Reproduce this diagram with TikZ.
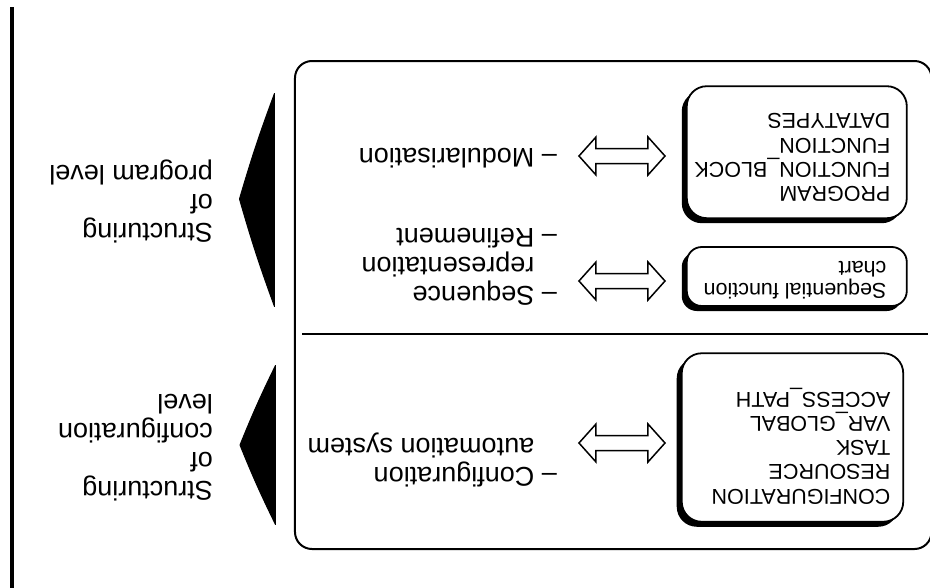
\documentclass[tikz,border=0pt]{standalone}
\usepackage{fontspec}
\setmainfont{Liberation Sans}
\begin{document}
\begin{tikzpicture}[x=1pt,y=1pt]
\tikzset{
  bigtxt/.style={font=\fontsize{27}{29}\selectfont, align=left, inner sep=0pt},
  boxtxt/.style={font=\fontsize{21.5}{24.2}\selectfont, align=left, inner sep=0pt},
  cbox/.style={draw, line width=1.8pt, fill=white, rounded corners=20pt, inner sep=0pt},
  shadowbox/.style={fill=black, rounded corners=20pt, inner sep=0pt},
  frameline/.style={line width=2pt},
  wedge/.style={fill=black, draw=black, line width=1pt, line join=round},
  hollow/.style={draw, line width=1.5pt, fill=white, line join=miter},
  dblarrow/.pic={\draw[hollow] (0,0) -- (17,19) -- (17,7.5) -- (69,7.5) -- (69,19) -- (86,0) -- (69,-19) -- (69,-7.5) -- (17,-7.5) -- (17,-19) -- cycle;},
}
\useasboundingbox[fill=white] (-930,-587) rectangle (0,0);
\begin{scope}[rotate=180, transform shape]
  % left bar
  \draw[line width=4.5pt] (918,7) -- (918,592);
  % big frame and divider
  \draw[frameline, rounded corners=17pt] (-1.5,61) rectangle (635,549);
  \draw[frameline] (2,334) -- (628,334);
  % triangles
  \path[wedge] (655.5,93.5) to[bend right=2] (690.5,199) to[bend right=2] (655.5,306.5) -- cycle;
  \path[wedge] (654.5,365.5) to[bend right=2] (690,445) to[bend right=2] (654.5,524.5) -- cycle;
  % boxes with shadows
  \node[shadowbox, minimum width=220pt, minimum height=132pt] (progsh) at (138.2,157.2) {};
  \node[cbox, minimum width=220pt, minimum height=132pt] (prog) at (133.2,152.2) {};
  \node[shadowbox, rounded corners=15pt, minimum width=220pt, minimum height=59pt] (sfcsh) at (138.2,281.5) {};
  \node[cbox, rounded corners=15pt, minimum width=220pt, minimum height=59pt] (sfc) at (133.2,276.5) {};
  \node[shadowbox, minimum width=221.5pt, minimum height=168.5pt] (confsh) at (142.5,442.5) {};
  \node[cbox, minimum width=221.5pt, minimum height=168.5pt] (conf) at (137.5,437.5) {};
  % box texts
  \node[boxtxt, anchor=west] (progtxt) at (39.3,157.5) {PROGRAM\\FUNCTION\_BLOCK\\FUNCTION\\DATATYPES};
  \node[boxtxt, font=\fontsize{21.5}{21.5}\selectfont, anchor=west] (sfctxt) at (43.3,280) {Sequential function\\chart};
  \node[boxtxt, anchor=west] (conftxt) at (39.3,446) {CONFIGURATION\\RESOURCE\\TASK\\VAR\_GLOBAL\\ACCESS\_PATH};
  % hollow double arrows
  \pic at (265,156) {dblarrow};
  \pic at (265,281) {dblarrow};
  \pic at (265,443) {dblarrow};
  % middle texts
  \node[bigtxt, anchor=base west] (modtxt) at (373,148) {-- Modularisation};
  \node[bigtxt, anchor=west] (seqtxt) at (373,267) {-- Sequence\\\hphantom{--\ }representation\\-- Refinement};
  \node[bigtxt, anchor=west] (cfgtxt) at (373,459.5) {-- Configuration\\\hphantom{--\ }automation system};
  % level texts
  \node[bigtxt, anchor=west] (lvlprog) at (717,201) {Structuring\\of\\program level};
  \node[bigtxt, anchor=west] (lvlconf) at (717,447.3) {Structuring\\of\\configuration\\level};
\end{scope}
\end{tikzpicture}
\end{document}
